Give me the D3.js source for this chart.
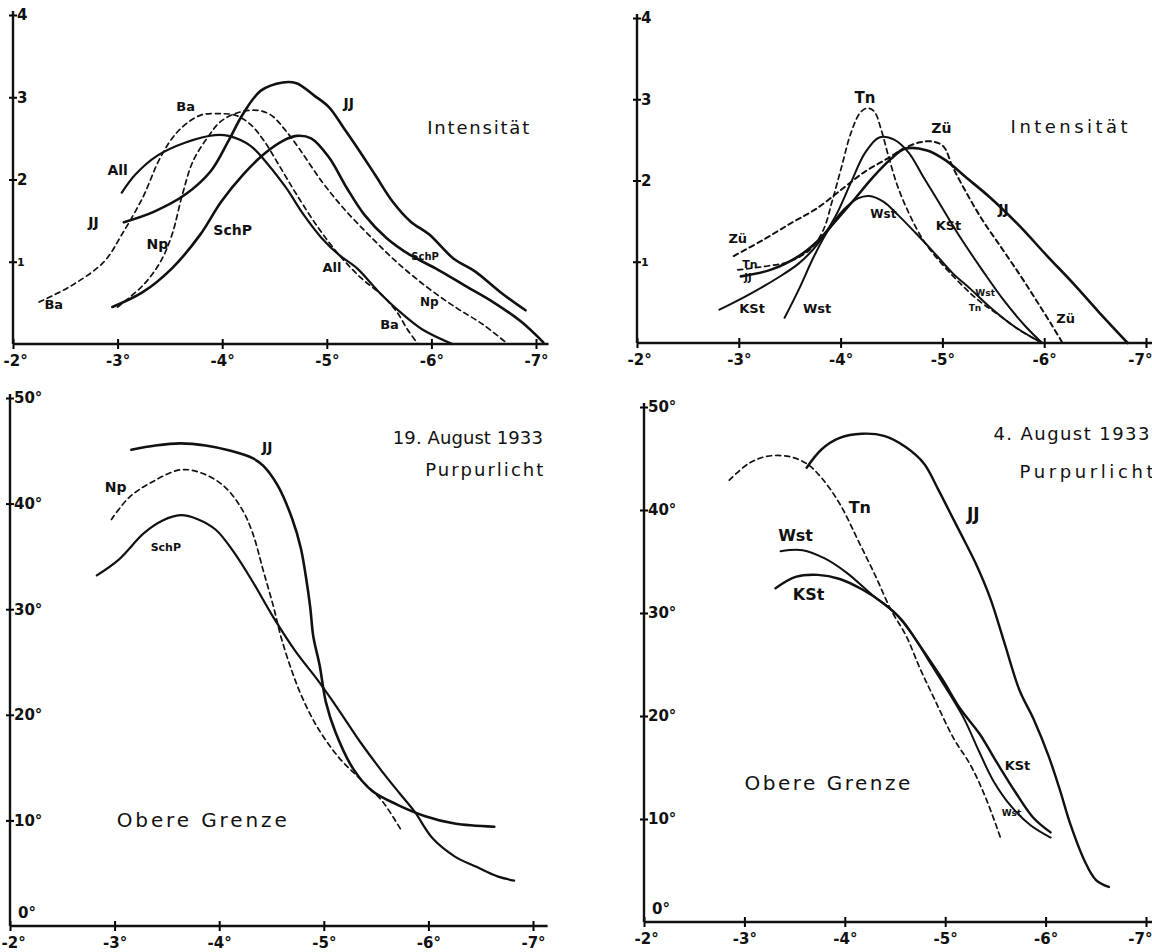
<!DOCTYPE html>
<html>
<head>
<meta charset="utf-8">
<script src="https://cdn.jsdelivr.net/npm/d3@7"></script>
<style>
  body { margin: 0; background: #fff; }
  svg { display: block; }
  .tick text, .lbl { font-family: "DejaVu Sans", sans-serif; fill: #111; }
</style>
</head>
<body>
<svg id="chart" width="1152" height="952"></svg>
<script>
// ---- tick values ----
const xTicks = [-2, -3, -4, -5, -6, -7];
const intTicks = [1, 2, 3, 4];
const degTicks = [10, 20, 30, 40, 50];

// ---- panel A: Intensität, 19. August (x = sun depression, y = intensity) ----
const aJJ = [[-3.06,1.48],[-3.35,1.61],[-3.65,1.82],[-3.89,2.10],[-4.06,2.47],[-4.20,2.80],[-4.37,3.08],[-4.58,3.18],[-4.71,3.17],[-4.88,3.02],[-5.02,2.88],[-5.16,2.63],[-5.29,2.39],[-5.46,2.06],[-5.63,1.73],[-5.80,1.49],[-5.98,1.33],[-6.21,1.04],[-6.42,0.88],[-6.66,0.63],[-6.90,0.41]];
const aAll = [[-3.04,1.84],[-3.17,2.06],[-3.38,2.29],[-3.65,2.45],[-3.93,2.54],[-4.06,2.53],[-4.27,2.41],[-4.44,2.18],[-4.61,1.90],[-4.78,1.57],[-4.95,1.29],[-5.12,1.08],[-5.29,0.92],[-5.50,0.63],[-5.70,0.39],[-5.91,0.18],[-6.20,0]];
const aSchP = [[-2.95,0.45],[-3.24,0.63],[-3.52,0.92],[-3.79,1.33],[-3.99,1.73],[-4.20,2.06],[-4.40,2.31],[-4.58,2.47],[-4.71,2.53],[-4.85,2.50],[-5.02,2.27],[-5.19,1.90],[-5.36,1.57],[-5.57,1.29],[-5.80,1.08],[-6.04,0.92],[-6.32,0.71],[-6.59,0.51],[-6.86,0.27],[-7.07,0.02]];
const aBa = [[-2.25,0.51],[-2.56,0.71],[-2.87,1.00],[-3.04,1.33],[-3.24,1.78],[-3.41,2.27],[-3.58,2.59],[-3.79,2.78],[-3.99,2.80],[-4.13,2.78],[-4.27,2.67],[-4.40,2.47],[-4.54,2.18],[-4.71,1.82],[-4.92,1.41],[-5.12,1.08],[-5.33,0.80],[-5.53,0.59],[-5.67,0.39],[-5.77,0.18],[-5.87,0]];
const aNp = [[-3.00,0.45],[-3.24,0.71],[-3.41,1.00],[-3.52,1.33],[-3.62,1.82],[-3.72,2.22],[-3.86,2.51],[-3.99,2.71],[-4.17,2.82],[-4.34,2.84],[-4.47,2.78],[-4.61,2.59],[-4.75,2.35],[-4.95,1.98],[-5.16,1.65],[-5.43,1.29],[-5.70,0.96],[-5.98,0.67],[-6.25,0.43],[-6.49,0.24],[-6.73,0]];
const aLabels = [
  ["Ba", -3.65, 2.88, 13], ["JJ", -5.21, 2.92, 14], ["All", -3.00, 2.10, 14],
  ["JJ", -2.77, 1.47, 14], ["Np", -3.38, 1.20, 14], ["SchP", -4.10, 1.37, 14],
  ["SchP", -5.94, 1.06, 10], ["All", -5.05, 0.92, 13], ["Np", -5.98, 0.51, 12],
  ["Ba", -5.60, 0.22, 13], ["Ba", -2.39, 0.47, 13]
];

// ---- panel B: Intensität, 4. August ----
const bKSt = [[-2.81,0.41],[-3.09,0.59],[-3.38,0.80],[-3.59,0.98],[-3.77,1.21],[-3.95,1.56],[-4.10,1.97],[-4.24,2.34],[-4.38,2.53],[-4.53,2.50],[-4.67,2.34],[-4.81,2.05],[-4.99,1.68],[-5.17,1.31],[-5.39,0.90],[-5.60,0.53],[-5.82,0.20],[-5.98,0]];
const bJJ = [[-3.02,0.82],[-3.31,0.90],[-3.59,1.07],[-3.77,1.25],[-3.95,1.50],[-4.13,1.76],[-4.31,2.03],[-4.49,2.26],[-4.63,2.39],[-4.85,2.37],[-5.03,2.25],[-5.24,2.03],[-5.46,1.80],[-5.75,1.45],[-6.03,1.07],[-6.28,0.74],[-6.53,0.39],[-6.82,0]];
const bWst = [[-3.45,0.31],[-3.59,0.66],[-3.74,1.07],[-3.88,1.39],[-4.03,1.64],[-4.17,1.78],[-4.28,1.81],[-4.42,1.74],[-4.56,1.58],[-4.74,1.35],[-4.92,1.11],[-5.10,0.86],[-5.28,0.66],[-5.46,0.45],[-5.71,0.20],[-5.98,0]];
const bTn = [[-2.99,0.90],[-3.24,0.94],[-3.49,1.00],[-3.70,1.15],[-3.83,1.39],[-3.92,1.76],[-4.01,2.17],[-4.10,2.58],[-4.19,2.83],[-4.26,2.89],[-4.33,2.85],[-4.40,2.62],[-4.47,2.30],[-4.56,1.93],[-4.67,1.60],[-4.81,1.27],[-4.99,0.98],[-5.17,0.74],[-5.35,0.53],[-5.57,0.33],[-5.78,0.14],[-5.98,0]];
const bZu = [[-2.95,1.07],[-3.24,1.27],[-3.52,1.48],[-3.77,1.66],[-4.03,1.91],[-4.24,2.11],[-4.46,2.27],[-4.63,2.40],[-4.78,2.47],[-4.90,2.48],[-5.01,2.42],[-5.10,2.17],[-5.24,1.84],[-5.39,1.52],[-5.57,1.19],[-5.75,0.86],[-5.92,0.53],[-6.07,0.23],[-6.18,0]];
const bLabels = [
  ["Tn", -4.24, 3.01, 15], ["Zü", -4.99, 2.64, 14], ["JJ", -5.60, 1.64, 14],
  ["KSt", -5.06, 1.43, 13], ["Wst", -4.42, 1.58, 12], ["Zü", -2.99, 1.27, 13],
  ["Tn", -3.11, 0.96, 11], ["JJ", -3.09, 0.80, 10], ["KSt", -3.13, 0.41, 13],
  ["Wst", -3.77, 0.41, 13], ["Wst", -5.42, 0.61, 9], ["Tn", -5.32, 0.43, 9],
  ["Zü", -6.21, 0.29, 13]
];

// ---- panel C: Purpurlicht obere Grenze, 19. August ----
const cJJ = [[-3.16,45.1],[-3.39,45.5],[-3.63,45.7],[-3.87,45.5],[-4.11,45.0],[-4.32,44.3],[-4.42,43.6],[-4.56,41.7],[-4.70,38.5],[-4.78,35.8],[-4.83,33.0],[-4.87,30.2],[-4.90,27.4],[-4.96,24.7],[-5.02,21.2],[-5.11,18.4],[-5.28,14.9],[-5.46,12.8],[-5.70,11.5],[-5.97,10.4],[-6.25,9.7],[-6.63,9.4]];
const cSchP = [[-2.83,33.2],[-3.04,34.7],[-3.28,37.2],[-3.46,38.4],[-3.63,38.9],[-3.80,38.5],[-3.97,37.5],[-4.14,35.4],[-4.32,32.6],[-4.52,29.2],[-4.73,26.0],[-4.94,23.3],[-5.14,20.5],[-5.35,17.4],[-5.56,14.6],[-5.73,12.5],[-5.87,10.8],[-6.04,8.3],[-6.25,6.6],[-6.46,5.6],[-6.66,4.7],[-6.82,4.3]];
const cNp = [[-2.97,38.5],[-3.14,40.6],[-3.35,42.0],[-3.63,43.2],[-3.83,42.9],[-4.04,41.7],[-4.21,39.6],[-4.32,37.2],[-4.42,33.7],[-4.52,30.2],[-4.59,27.4],[-4.70,24.0],[-4.80,21.5],[-4.94,18.8],[-5.14,16.0],[-5.35,13.9],[-5.56,11.8],[-5.75,8.9]];
const cLabels = [["JJ", -4.46, 45.3, 14], ["Np", -3.01, 41.5, 14], ["SchP", -3.49, 35.8, 11]];

// ---- panel D: Purpurlicht obere Grenze, 4. August ----
const dJJ = [[-3.62,44.1],[-3.77,45.9],[-3.95,47.0],[-4.17,47.4],[-4.39,47.2],[-4.61,46.1],[-4.79,44.5],[-4.93,42.0],[-5.04,39.9],[-5.15,37.8],[-5.30,34.9],[-5.45,31.4],[-5.59,27.1],[-5.74,22.5],[-5.88,19.7],[-6.03,16.1],[-6.14,12.9],[-6.25,9.4],[-6.39,5.9],[-6.50,4.1],[-6.63,3.4]];
const dTn = [[-2.85,42.9],[-3.04,44.5],[-3.22,45.2],[-3.44,45.2],[-3.62,44.5],[-3.77,43.1],[-3.95,40.6],[-4.13,37.1],[-4.31,33.5],[-4.46,30.3],[-4.61,27.8],[-4.75,24.6],[-4.90,21.5],[-5.08,17.9],[-5.26,15.1],[-5.41,11.9],[-5.55,8.2]];
const dWst = [[-3.36,36.0],[-3.58,36.1],[-3.80,35.3],[-4.02,33.9],[-4.28,31.7],[-4.50,30.0],[-4.68,27.8],[-4.86,25.0],[-5.04,22.2],[-5.19,19.7],[-5.34,16.5],[-5.48,13.7],[-5.66,11.2],[-5.85,9.4],[-6.05,8.2]];
const dKSt = [[-3.31,32.4],[-3.51,33.5],[-3.73,33.7],[-3.95,33.3],[-4.17,32.3],[-4.39,30.9],[-4.57,29.3],[-4.75,26.8],[-4.97,23.6],[-5.15,20.7],[-5.34,18.3],[-5.52,15.4],[-5.70,12.6],[-5.88,10.1],[-6.05,8.7]];
const dLabels = [
  ["Tn", -4.15, 40.1, 16], ["JJ", -5.28, 39.5, 17], ["Wst", -3.51, 37.4, 16],
  ["KSt", -3.64, 31.7, 16], ["KSt", -5.72, 15.1, 13], ["Wst", -5.66, 10.5, 9]
];

// ---- titles: [text, x, y, size, width] ----
const aTitles = [["Intensität", -5.96, 2.55, 18, 102]];
const bTitles = [["Intensität", -5.67, 2.58, 18, 117]];
const cTitles = [["19. August 1933", -5.66, 45.6, 18, 150], ["Purpurlicht", -5.97, 42.6, 18, 118], ["Obere Grenze", -3.02, 9.4, 20, 170]];
const dTitles = [["4. August 1933", -5.48, 46.8, 18, 156], ["Purpurlicht", -5.74, 43.1, 18, 134], ["Obere Grenze", -3.0, 12.8, 20, 166]];

const svg = d3.select('#chart');

const panels = [
  { xr: [13, 536], yd: [0, 4], yr: [344, 15], xEnd: -7.12, yTicks: intTicks, deg: false,
    series: [[aJJ, 0, 2.6], [aAll, 0, 2.2], [aSchP, 0, 2.6], [aBa, 1, 1.7], [aNp, 1, 1.7]],
    labels: aLabels, titles: aTitles },
  { xr: [637, 1146], yd: [0, 4], yr: [343, 18], xEnd: -7.1, yTicks: intTicks, deg: false,
    series: [[bKSt, 0, 2.0], [bJJ, 0, 2.6], [bWst, 0, 2.0], [bTn, 1, 1.7], [bZu, 1, 2.0]],
    labels: bLabels, titles: bTitles },
  { xr: [10, 533], yd: [0, 50], yr: [926, 398], xEnd: -7.14, yTicks: degTicks, deg: true,
    series: [[cJJ, 0, 2.6], [cSchP, 0, 2.2], [cNp, 1, 1.7]],
    labels: cLabels, titles: cTitles },
  { xr: [644, 1146], yd: [0, 50], yr: [922, 407], xEnd: -7.1, yTicks: degTicks, deg: true,
    series: [[dJJ, 0, 2.4], [dTn, 1, 1.7], [dWst, 0, 2.0], [dKSt, 0, 2.4]],
    labels: dLabels, titles: dTitles }
];

panels.forEach(function(p) {
  const x = d3.scaleLinear().domain([-2, -7]).range(p.xr);
  const y = d3.scaleLinear().domain(p.yd).range(p.yr);
  const g = svg.append('g');

  // x axis
  const xAxis = g.append('g')
      .attr('transform', 'translate(0,' + y(0) + ')')
      .call(d3.axisBottom(x).tickValues(xTicks).tickFormat(d => d + '°').tickSizeOuter(0).tickSize(5));
  xAxis.select('.domain').remove();
  xAxis.selectAll('.tick line').attr('y1', -5).attr('stroke-width', 2);
  xAxis.selectAll('.tick text')
      .attr('font-size', 15).attr('font-weight', 'bold').attr('dy', '0.9em')
      .attr('text-anchor', d => d === -2 ? 'start' : (d === -7 && x(-7) > 1100 ? 'end' : 'middle'))
      .attr('x', d => d === -2 ? -Math.min(10, x(-2) - 1) : (d === -7 && x(-7) > 1100 ? 6 : 0));
  g.append('line')
      .attr('x1', x(-2)).attr('x2', x(p.xEnd))
      .attr('y1', y(0)).attr('y2', y(0))
      .attr('stroke', '#111').attr('stroke-width', 2.4);

  // y axis
  const top = p.yd[1];
  const yAxis = g.append('g')
      .attr('transform', 'translate(' + x(-2) + ',0)')
      .call(d3.axisRight(y).tickValues(p.yTicks).tickFormat(d => p.deg ? d + '°' : d).tickSizeOuter(0).tickSize(4));
  yAxis.select('.domain').remove();
  yAxis.selectAll('.tick line').attr('x1', -4).attr('stroke-width', 2);
  yAxis.selectAll('.tick text')
      .attr('font-size', d => (!p.deg && d === 1) ? 11 : 15)
      .attr('font-weight', 'bold').attr('x', 4);
  g.append('line')
      .attr('x1', x(-2)).attr('x2', x(-2))
      .attr('y1', y(0)).attr('y2', y(top) - 4)
      .attr('stroke', '#111').attr('stroke-width', 2.4);
  if (p.deg) {
    g.append('text').attr('class', 'lbl')
        .attr('x', x(-2) + 8).attr('y', y(0) - 8)
        .attr('font-size', 15).attr('font-weight', 'bold')
        .text('0°');
  }

  // curves
  const line = d3.line()
      .x(d => x(d[0]))
      .y(d => y(d[1]))
      .curve(d3.curveCatmullRom.alpha(0.5));
  p.series.forEach(function(s) {
    g.append('path')
        .datum(s[0])
        .attr('d', line)
        .attr('fill', 'none')
        .attr('stroke', '#111')
        .attr('stroke-width', s[2])
        .attr('stroke-dasharray', s[1] ? '5,4' : null)
        .attr('stroke-linecap', 'round')
        .attr('stroke-linejoin', 'round');
  });

  // curve labels
  g.selectAll('text.cl')
      .data(p.labels)
    .enter().append('text')
      .attr('class', 'lbl cl')
      .attr('x', d => x(d[1]))
      .attr('y', d => y(d[2]))
      .attr('font-size', d => d[3])
      .attr('font-weight', 'bold')
      .attr('text-anchor', 'middle')
      .attr('dominant-baseline', 'middle')
      .text(d => d[0]);

  // titles
  g.selectAll('text.tt')
      .data(p.titles)
    .enter().append('text')
      .attr('class', 'lbl tt')
      .attr('x', d => x(d[1]))
      .attr('y', d => y(d[2]))
      .attr('font-size', d => d[3])
      .attr('textLength', d => d[4])
      .attr('lengthAdjust', 'spacing')
      .text(d => d[0]);
});
</script>
</body>
</html>
